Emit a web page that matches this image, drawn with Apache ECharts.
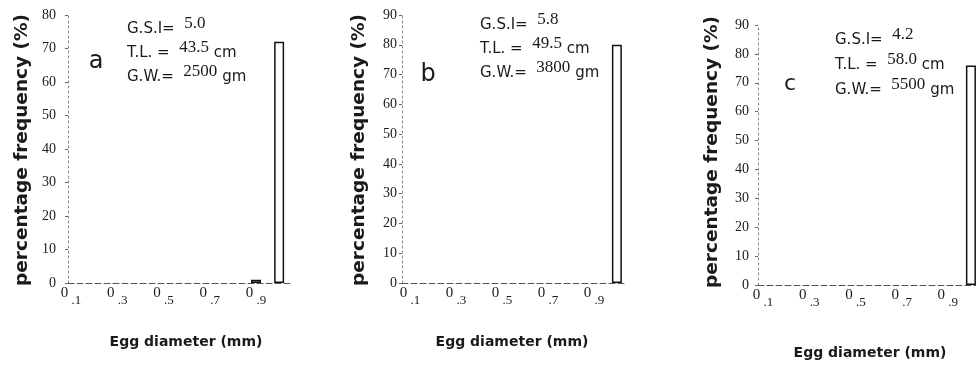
<!DOCTYPE html>
<html>
<head>
<meta charset="utf-8">
<script src="https://cdn.jsdelivr.net/npm/echarts@6/dist/echarts.min.js"></script>
<style>
  html, body { margin: 0; padding: 0; background: #fff; }
  #main { width: 976px; height: 370px; }
</style>
</head>
<body>
<div id="main"></div>
<script>
// egg diameter classes (mm)
const diameters = [0.1, 0.2, 0.3, 0.4, 0.5, 0.6, 0.7, 0.8, 0.9, 1.0];
const freqA = [0, 0, 0, 0, 0, 0, 0, 0, 1, 72];
const freqB = [0, 0, 0, 0, 0, 0, 0, 0, 0, 80];
const freqC = [0, 0, 0, 0, 0, 0, 0, 0, 0, 76];
const xTickLabels = [0.1, 0.3, 0.5, 0.7, 0.9];
const yMax = [80, 90, 90];

const panelLetters = ['a', 'b', 'c'];
const gsi = ['5.0', '5.8', '4.2'];
const tl = ['43.5', '49.5', '58.0'];
const gw = ['2500', '3800', '5500'];

const yName = 'percentage frequency (%)';
const xName = 'Egg diameter (mm)';

const chart = echarts.init(document.getElementById('main'));

// layout per panel
const grids = [
  { left: 68, top: 15, width: 222, height: 268 },
  { left: 402, top: 15, width: 225, height: 268 },
  { left: 758, top: 25, width: 218, height: 260 }
];
const xRange = [[0.087, 1.047], [0.065, 1.044], [0.078, 1.022]];
const yLabelMargin = [12, 5, 9];
const yNamePos = [[22, 150], [359, 150], [712, 152]];
const xNamePos = [[186, 342], [512, 342], [870, 353]];
const notePos = [[127, 15, 24], [480, 11, 24], [835, 26, 25]];
const letterPos = [[96, 62, 24], [428, 75, 24], [790, 84, 22]];

const serif = '"Liberation Serif", "DejaVu Serif", serif';
const sans = '"DejaVu Sans", Verdana, sans-serif';
const ink = '#1a1a1a';

const xAxes = grids.map((g, i) => ({
  type: 'value',
  gridIndex: i,
  min: xRange[i][0],
  max: xRange[i][1],
  splitLine: { show: false },
  axisLine: { show: true, lineStyle: { color: '#555', width: 1, type: [6, 3] } },
  axisTick: { show: false },
  axisLabel: {
    customValues: xTickLabels,
    margin: 3,
    formatter: v => '{a|0}{b| ' + String(v).slice(1) + '}',
    rich: {
      a: { fontFamily: serif, fontSize: 15, color: ink, verticalAlign: 'top', lineHeight: 21 },
      b: { fontFamily: serif, fontSize: 13, color: ink, verticalAlign: 'bottom', lineHeight: 21 }
    }
  }
}));

const yAxes = grids.map((g, i) => ({
  type: 'value',
  gridIndex: i,
  min: 0,
  max: yMax[i],
  interval: 10,
  splitLine: { show: false },
  axisLine: { show: true, lineStyle: { color: '#888', width: 1, type: [2, 3] } },
  axisTick: { show: true, length: 3, lineStyle: { color: '#666' } },
  axisLabel: { fontFamily: serif, fontSize: 14, color: ink, margin: yLabelMargin[i] }
}));

const freqs = [freqA, freqB, freqC];
const series = freqs.map((vals, i) => ({
  type: 'bar',
  xAxisIndex: i,
  yAxisIndex: i,
  barWidth: 10,
  itemStyle: { color: '#fff', borderColor: '#111', borderWidth: 1.5 },
  data: diameters.map((d, k) => vals[k] > 0 ? [d, vals[k]] : null).filter(Boolean)
}));

const graphic = [];
for (let i = 0; i < 3; i++) {
  graphic.push({
    type: 'text', x: yNamePos[i][0], y: yNamePos[i][1], rotation: Math.PI / 2,
    style: { text: yName, font: 'bold 18.5px ' + sans, fill: ink, align: 'center', verticalAlign: 'middle' }
  });
  graphic.push({
    type: 'text', x: xNamePos[i][0], y: xNamePos[i][1],
    style: { text: xName, font: 'bold 14px ' + sans, fill: ink, align: 'center', verticalAlign: 'middle' }
  });
  graphic.push({
    type: 'text', x: letterPos[i][0], y: letterPos[i][1],
    style: { text: panelLetters[i], font: letterPos[i][2] + 'px ' + sans, fill: ink, align: 'center', verticalAlign: 'middle' }
  });
  const rich = {
    l: { fontFamily: sans, fontSize: 15, fill: ink, verticalAlign: 'bottom', lineHeight: 22 },
    n: { fontFamily: serif, fontSize: 17, fill: ink, verticalAlign: 'top', lineHeight: 22 },
    u: { fontFamily: sans, fontSize: 15, fill: ink, verticalAlign: 'bottom', lineHeight: 22 }
  };
  const lines = [
    '{l|G.S.I=  }{n|' + gsi[i] + '}',
    '{l|T.L. =  }{n|' + tl[i] + '}{u| cm}',
    '{l|G.W.=  }{n|' + gw[i] + '}{u| gm}'
  ];
  lines.forEach((t, k) => {
    graphic.push({
      type: 'text', x: notePos[i][0], y: notePos[i][1] + k * notePos[i][2],
      style: { text: t, rich: rich, align: 'left', verticalAlign: 'top' }
    });
  });
}

const option = {
  backgroundColor: '#fff',
  animation: false,
  grid: grids,
  xAxis: xAxes,
  yAxis: yAxes,
  series: series,
  graphic: graphic
};

chart.setOption(option);
</script>
</body>
</html>
